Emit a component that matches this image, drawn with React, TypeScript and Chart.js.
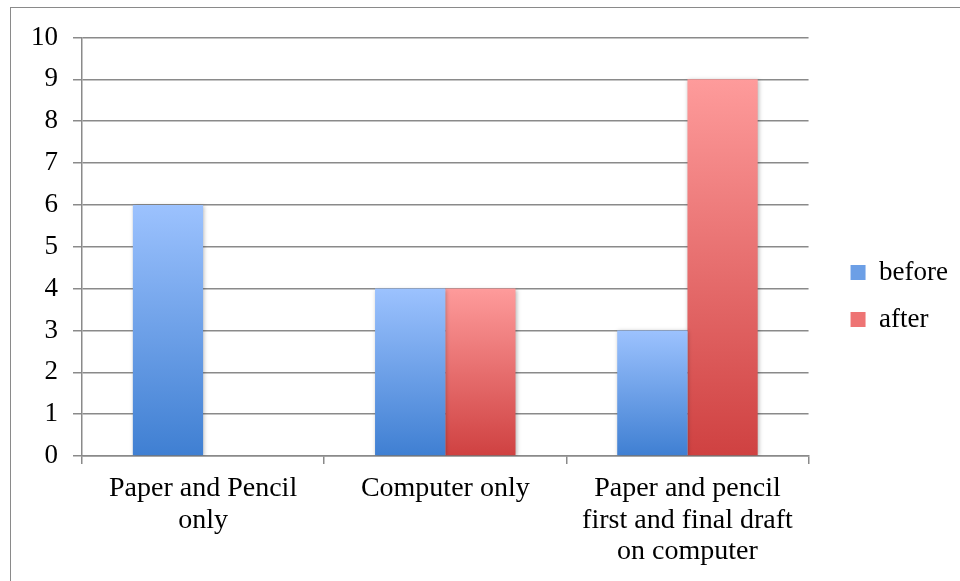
import React, { useEffect, useRef } from "react";
import { Chart, registerables } from "chart.js";

Chart.register(...registerables);

const categories: (string | string[])[] = [
  ["Paper and Pencil", "only"],
  "Computer only",
  ["Paper and pencil", "first and final draft", "on computer"],
];
const beforeValues = [6, 4, 3];
const afterValues = [0, 4, 9];
const seriesNames = ["before", "after"];
const yTicks = [0, 1, 2, 3, 4, 5, 6, 7, 8, 9, 10];

const FONT = "'Liberation Serif', 'Times New Roman', serif";
const GRID = "#8a8a8a";

const blueTop = "#9CC2FE";
const blueBottom = "#3F7FD2";
const redTop = "#FE9B9B";
const redBottom = "#CF4141";

function gradientFill(light: string, dark: string, mid: string) {
  return (ctx: any) => {
    if (ctx.type !== "data") return mid;
    const chart = ctx.chart;
    if (!chart.chartArea) return mid;
    const y = chart.scales.y;
    const v = ctx.parsed ? ctx.parsed.y : 0;
    const top = y.getPixelForValue(v);
    const base = y.getPixelForValue(0);
    if (Math.abs(base - top) < 0.5) return mid;
    const g = chart.ctx.createLinearGradient(0, top, 0, base);
    g.addColorStop(0, light);
    g.addColorStop(1, dark);
    return g;
  };
}

const shadowPlugin = {
  id: "barShadow",
  beforeDatasetsDraw(chart: any) {
    const c = chart.ctx;
    c.save();
    c.shadowColor = "rgba(0,0,0,0.28)";
    c.shadowBlur = 4;
    c.shadowOffsetX = 1;
    c.shadowOffsetY = 1;
  },
  afterDatasetsDraw(chart: any) {
    chart.ctx.restore();
  },
};

export default function App() {
  const ref = useRef<HTMLCanvasElement | null>(null);

  useEffect(() => {
    document.body.style.margin = "0";
    if (!ref.current) return;
    const chart = new Chart(ref.current, {
      type: "bar",
      data: {
        labels: categories as any,
        datasets: [
          {
            label: seriesNames[0],
            data: beforeValues,
            backgroundColor: gradientFill(blueTop, blueBottom, "#6C9FE6"),
            borderWidth: 0,
          },
          {
            label: seriesNames[1],
            data: afterValues,
            backgroundColor: gradientFill(redTop, redBottom, "#EE7474"),
            borderWidth: 0,
          },
        ],
      },
      options: {
        animation: false,
        responsive: false,
        devicePixelRatio: 1,
        layout: { padding: { top: 11, right: 2, bottom: 0, left: 0 } },
        datasets: {
          bar: { categoryPercentage: 0.58, barPercentage: 1 },
        },
        scales: {
          x: {
            offset: true,
            grid: {
              display: true,
              drawOnChartArea: false,
              offset: true,
              color: GRID,
              lineWidth: 1.5,
              tickLength: 8,
            },
            border: { display: true, color: GRID, width: 1.5 },
            ticks: {
              color: "#000",
              padding: 9,
              maxRotation: 0,
              autoSkip: false,
              font: { family: FONT, size: 28, lineHeight: 1.13 },
            },
            afterFit(axis: any) {
              axis.height = 125;
            },
          },
          topSpacer: {
            type: "linear",
            position: "top",
            display: true,
            grid: { display: false },
            border: { display: false },
            ticks: { display: false },
            afterFit(axis: any) {
              axis.height = 26.5;
            },
          },
          y: {
            min: 0,
            max: 10,
            afterBuildTicks(axis: any) {
              axis.ticks = yTicks.map((v) => ({ value: v }));
            },
            grid: {
              color: GRID,
              lineWidth: 1.5,
              tickLength: 9,
            },
            border: { display: true, color: GRID, width: 1.5 },
            ticks: {
              color: "#000",
              padding: 15,
              font: { family: FONT, size: 27 },
            },
            afterFit(axis: any) {
              axis.width = 82;
            },
          },
          spacer: {
            type: "linear",
            position: "right",
            display: true,
            grid: { display: false },
            border: { display: false },
            ticks: { display: false },
            afterFit(axis: any) {
              axis.width = 22;
            },
          },
        },
        plugins: {
          tooltip: { enabled: false },
          legend: {
            position: "right",
            align: "center",
            labels: {
              boxWidth: 15,
              boxHeight: 15,
              padding: 20,
              color: "#000",
              font: { family: FONT, size: 27 },
              generateLabels(chart: any) {
                const fills = ["#6C9FE6", "#EE7474"];
                return chart.data.datasets.map((ds: any, i: number) => ({
                  text: ds.label,
                  fillStyle: fills[i],
                  strokeStyle: fills[i],
                  lineWidth: 0,
                  hidden: false,
                  datasetIndex: i,
                  fontColor: "#000",
                }));
              },
            },
          },
        },
      } as any,
      plugins: [shadowPlugin],
    });
    return () => chart.destroy();
  }, []);

  return (
    <div style={{ position: "relative", width: 960, height: 581, overflow: "hidden", background: "#fff" }}>
      <div
        style={{
          position: "absolute",
          left: 10,
          top: 7,
          width: 1200,
          height: 1200,
          border: "1.5px solid #8a8a8a",
          boxSizing: "border-box",
        }}
      />
      <canvas
        ref={ref}
        width={960}
        height={581}
        style={{ position: "absolute", left: 0, top: 0, width: 960, height: 581, display: "block" }}
      />
    </div>
  );
}
